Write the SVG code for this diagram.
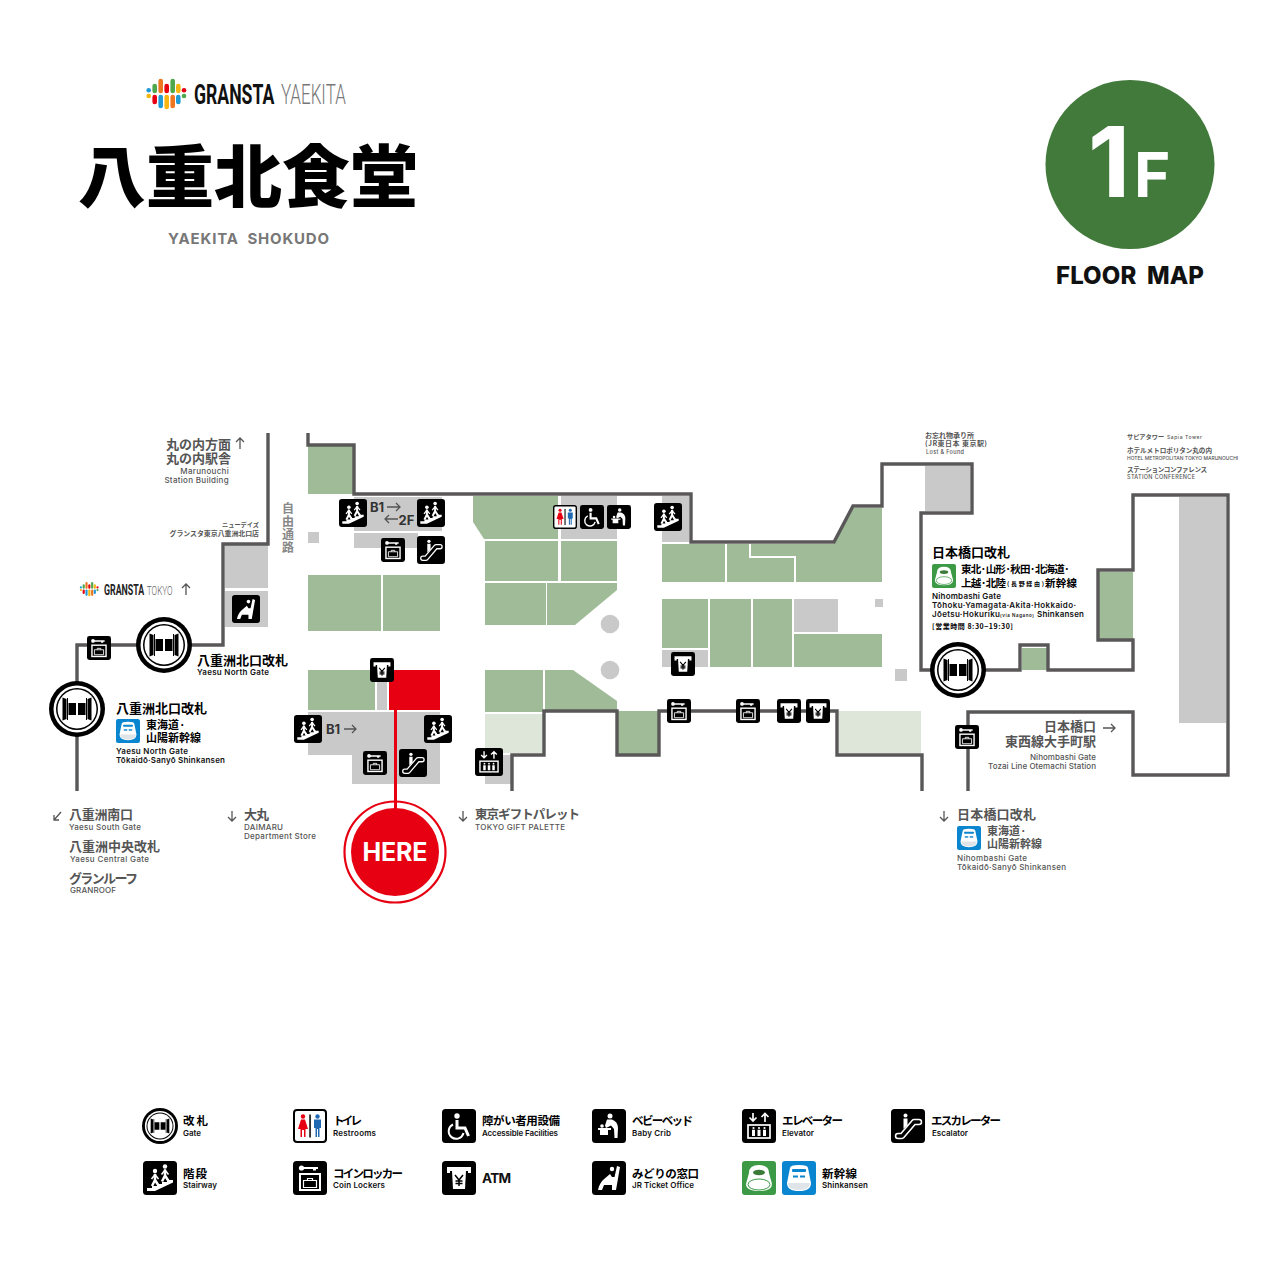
<svg xmlns="http://www.w3.org/2000/svg" width="1276" height="1276" viewBox="0 0 1276 1276">
<style>
text{font-family:"Noto Sans CJK JP",sans-serif}
.j{font-weight:700;fill:#000}
.g{font-weight:700;fill:#555}
.e{font-family:"Inter","Noto Sans CJK JP",sans-serif;font-weight:600;fill:#111}
.eg{font-family:"Inter","Noto Sans CJK JP",sans-serif;font-weight:500;fill:#555}
.wall{fill:none;stroke:#595757;stroke-width:3.4;stroke-linejoin:miter}
.green{fill:#9fbb98}.light{fill:#dde6d8}.gray{fill:#c9c9c9}
.arrow{fill:none;stroke:#555;stroke-width:1.3}
.lg{font-size:11.5px}.le{font-size:8px}
.in{font-family:"Inter",sans-serif}.ro{font-family:"Roboto",sans-serif}
</style>
<defs>
<g id="person"><circle cx="0" cy="0" r="2.200" fill="#fff"/><path d="M0 3V9L-3 15M0 9L3.500 14.500" fill="none" stroke="#fff" stroke-width="2.500"/><path d="M-3.500 8L0 3.500L3.500 8" fill="none" stroke="#fff" stroke-width="1.500"/></g>
<symbol id="i-stair" viewBox="0 0 34 34"><rect width="34" height="34" rx="3.500"/><path d="M4 30V27H9V25H14V23H19V21H24V19H30V21.500L12 30Z" fill="#fff"/><use href="#person" x="12" y="10"/><use href="#person" x="22" y="5.500"/></symbol>
<symbol id="i-locker" viewBox="0 0 34 34"><rect width="34" height="34" rx="3.500"/><circle cx="8.500" cy="7" r="2.600" fill="#fff"/><path d="M9 6H25V8H23V9.500H20V8H9Z" fill="#fff"/><rect x="7" y="13" width="20" height="16" fill="none" stroke="#fff" stroke-width="2"/><path d="M10.500 19.500H23.500V26.500H10.500ZM14.500 19.500V17.500H19.500V19.500" fill="none" stroke="#fff" stroke-width="1.200"/></symbol>
<symbol id="i-esc" viewBox="0 0 34 34"><rect width="34" height="34" rx="3.500"/><path d="M7 27H11L23 13H28" fill="none" stroke="#fff" stroke-width="6.500" stroke-linecap="round" stroke-linejoin="round"/><path d="M7 27H11L23 13H28" fill="none" stroke="#000" stroke-width="3.400" stroke-linecap="round" stroke-linejoin="round"/><circle cx="14.500" cy="6.500" r="2" fill="#fff"/><path d="M12.500 9.500H16.500V16L12.500 20Z" fill="#fff"/></symbol>
<symbol id="i-jr" viewBox="0 0 34 34"><rect width="34" height="34" rx="3.500"/><circle cx="20" cy="8" r="2.200" fill="#fff"/><path d="M25 5L28 6L24 29H20L20 24H12L10 29H6C7 24 9 21 11 19L18 13L20 16H22.500Z" fill="#fff"/></symbol>
<symbol id="i-atm" viewBox="0 0 34 34"><rect width="34" height="34" rx="3.500"/><path d="M5 6H29V12H26V10H8V12H5Z" fill="#fff"/><path d="M10 10H24L23 28H11Z" fill="#fff"/><path d="M13 14L17 19L21 14M17 19V25M13.500 20H20.500M13.500 22.500H20.500" fill="none" stroke="#000" stroke-width="1.500"/></symbol>
<symbol id="i-wc" viewBox="0 0 34 34"><rect x="1" y="1" width="32" height="32" rx="3" fill="#fff" stroke="#000" stroke-width="2"/><circle cx="10" cy="7.500" r="2.200" fill="#e60012"/><path d="M8 10.500H12L15 20H12.500V28H11V21H9V28H7.500V20H5Z" fill="#e60012"/><rect x="16.300" y="5.500" width="1.500" height="23"/><circle cx="24.500" cy="7.500" r="2.200" fill="#1f69b3"/><path d="M21 10.500H28V19H26.500V28H25V20H24V28H22.500V19H21Z" fill="#1f69b3"/></symbol>
<symbol id="i-acc" viewBox="0 0 34 34"><rect width="34" height="34" rx="3.500"/><circle cx="15" cy="7" r="2.700" fill="#fff"/><path d="M15 11V19H23L26.500 27" fill="none" stroke="#fff" stroke-width="3"/><path d="M11 15.500A7.500 7.500 0 1 0 21.500 24" fill="none" stroke="#fff" stroke-width="2"/></symbol>
<symbol id="i-baby" viewBox="0 0 34 34"><rect width="34" height="34" rx="3.500"/><circle cx="18" cy="7" r="2.500" fill="#fff"/><path d="M15 10.500H20C24 12 26 15 26 19L25.500 29H22.500L22 20L19 16.500L14 19L13 16.500Z" fill="#fff"/><path d="M6 19H19V21H16V26H8V21H6Z" fill="#fff"/><circle cx="10" cy="17" r="1.800" fill="#fff"/></symbol>
<symbol id="i-ev" viewBox="0 0 34 34"><rect width="34" height="34" rx="3.500"/><path d="M11 4V12M7.500 8.500L11 12L14.500 8.500M23 13V4.500M19.500 8L23 4.500L26.500 8" fill="none" stroke="#fff" stroke-width="1.700"/><rect x="6" y="16" width="22" height="13" fill="none" stroke="#fff" stroke-width="1.700"/><g fill="#fff"><circle cx="11.500" cy="19" r="1.100"/><circle cx="17" cy="19" r="1.100"/><circle cx="22.500" cy="19" r="1.100"/><path d="M10 20.800H13V27H10ZM15.500 20.800H18.500V27H15.500ZM21 20.800H24V27H21Z"/></g></symbol>
<symbol id="i-sg" viewBox="0 0 34 34"><rect width="34" height="34" rx="3" fill="#3c9a46"/><path d="M7 12Q7 4 17 4Q27 4 27 12L30 23Q30 30 17 30Q4 30 4 23Z" fill="#fff"/><ellipse cx="17" cy="11.500" rx="6" ry="2.800" fill="#3c7a3a"/><ellipse cx="17" cy="23.500" rx="11" ry="5.500" fill="#fff" stroke="#3c9a46" stroke-width="1"/></symbol>
<symbol id="i-sb" viewBox="0 0 34 34"><rect width="34" height="34" rx="3" fill="#0a86d0"/><path d="M8 7Q8 4 17 4Q26 4 26 7L29 22Q29 30 17 30Q5 30 5 22Z" fill="#fff"/><rect x="10" y="8" width="14" height="3" rx="1" fill="#0a86d0"/><rect x="11" y="14.500" width="5" height="2" fill="#0a86d0"/><rect x="18" y="14.500" width="5" height="2" fill="#0a86d0"/><path d="M6 22H28Q28 29 17 29Q6 29 6 22Z" fill="#dfe4e8"/></symbol>
<symbol id="i-gate" viewBox="-28 -28 56 56"><circle r="28"/><circle r="23.500" fill="#fff"/><circle r="21" fill="#000"/><circle r="19.500" fill="#fff"/><path d="M-14.500 -11.500L-10.500 -10V10L-14.500 11.500ZM14.500 -11.500L10.500 -10V10L14.500 11.500Z"/><path d="M-8.500 -6H-1V6H-8.500ZM1 -6H8.500V6H1Z"/><path d="M-9.500 -11V11M9.500 -11V11" stroke="#000" stroke-width="1"/></symbol>
<g id="logo"><g fill="none" stroke-width="4.600" stroke-linecap="round"><path d="M148.700 90.300h.01" stroke="#1e9ad6"/><path d="M148.700 96h.01" stroke="#f6b511"/><path d="M154.700 86V91" stroke="#4fa84b"/><path d="M154.700 97V102" stroke="#e60012"/><path d="M160.700 81V91" stroke="#ee7623"/><path d="M160.700 97V106" stroke="#1e9ad6"/><path d="M166.700 86V91" stroke="#e60012"/><path d="M166.700 97V107" stroke="#f6b511"/><path d="M172.700 81V91" stroke="#4fa84b"/><path d="M172.700 97V106" stroke="#ee7623"/><path d="M178.300 86V91" stroke="#f6b511"/><path d="M178.300 97V102" stroke="#1e9ad6"/><path d="M184 90.300h.01" stroke="#e60012"/><path d="M184 96h.01" stroke="#4fa84b"/></g></g>
</defs>
<rect width="1276" height="1276" fill="#fff"/>

<g id="header">
<use href="#logo"/>
<text class="ro" transform="translate(194 103.500) scale(.63 1)" font-size="28"><tspan x="0" font-weight="700" fill="#111">GRANSTA</tspan><tspan x="138" font-size="27" font-weight="300" fill="#777">YAEKITA</tspan></text>
<text x="78" y="202" font-size="68" font-weight="900" textLength="340" fill="#000">八重北食堂</text>
<text class="in" x="168" y="244" font-size="15" font-weight="700" textLength="161" style="white-space:pre" fill="#777">YAEKITA  SHOKUDO</text>
</g>
<g id="floor-badge">
<circle cx="1130" cy="164.500" r="84.500" fill="#417a3b"/>
<text class="in" x="1088" y="197" font-size="98" font-weight="700" fill="#fff">1<tspan x="1134" font-size="62">F</tspan></text>
<text class="in" x="1056" y="284" font-size="24" font-weight="800" textLength="148" style="white-space:pre" fill="#111">FLOOR  MAP</text>
</g>

<g id="rooms">
<g class="green">
<rect x="308" y="446" width="45" height="48"/>
<rect x="308" y="575" width="73" height="56"/><rect x="383" y="575" width="57" height="56"/>
<rect x="308" y="670" width="67" height="40"/>
<path d="M473 496H558V539H484L473 522Z"/>
<rect x="485" y="541" width="73" height="40"/><rect x="561" y="541" width="56" height="40"/>
<rect x="485" y="583" width="61" height="42"/>
<path d="M547 583H617V590L575 625H547Z"/>
<rect x="485" y="670" width="58" height="42"/>
<path d="M545 670H573L617 701V711H545Z"/>
<rect x="618" y="711" width="40" height="43"/>
<rect x="662" y="544" width="63" height="38"/>
<path d="M727 544H749V558H794V582H727Z"/>
<path d="M751 544H834L853 508H882V582H796V556H751Z"/>
<rect x="662" y="599" width="46" height="49"/>
<rect x="710" y="599" width="41" height="68"/><rect x="753" y="599" width="39" height="68"/>
<rect x="794" y="634" width="88" height="33"/>
<rect x="1099" y="572" width="34" height="68"/>
<rect x="1022" y="648" width="25" height="22"/>
</g>
<g class="light"><rect x="485" y="714" width="58" height="39"/><rect x="839" y="711" width="82" height="42"/></g>
<g class="gray">
<rect x="225" y="545" width="43" height="43"/><rect x="225" y="591" width="43" height="36"/>
<rect x="308" y="532" width="11" height="11"/>
<rect x="354" y="497" width="88" height="34"/><rect x="354" y="533" width="64" height="15"/>
<rect x="377" y="670" width="10" height="40"/>
<path d="M308 712H440V784H352V755H308Z"/>
<rect x="561" y="496" width="56" height="43"/>
<circle cx="610" cy="624" r="9.300"/><circle cx="610" cy="670" r="9.300"/>
<rect x="662" y="496" width="27" height="46"/>
<rect x="662" y="650" width="46" height="17"/>
<rect x="794" y="599" width="44" height="33"/>
<rect x="875" y="599" width="8" height="8"/><rect x="895" y="669" width="12" height="12"/>
<rect x="485" y="755" width="27" height="29"/>
<rect x="925" y="466" width="45" height="45"/>
<rect x="1179" y="497" width="47" height="226"/>
</g>
<rect x="389" y="670" width="51" height="40" fill="#e60012"/>
</g>

<g id="connectors">
<path class="wall" d="M268 433V544H223V645H77V791"/>
<path class="wall" d="M308 433V445H354V494H691V542H834L853 506H882V464H972V513H921V670H1020V645H1048V670H1133V640H1098V570H1133V495H1228V775H1133V712H968V791"/>
<path class="wall" d="M512 791V755H544V711H617V755H659V711H837V755H922V791"/>
<path d="M395.500 710V810" fill="none" stroke="#e60012" stroke-width="3"/>
</g>

<g id="gates">
<use id="gate-yaesu-north" href="#i-gate" x="136" y="617" width="56" height="56"/>
<use id="gate-yaesu-north-2" href="#i-gate" x="49" y="681" width="56" height="56"/>
<use id="gate-nihombashi" href="#i-gate" x="930" y="642" width="56" height="56"/>
</g>
<g id="map-icons">
<use href="#i-stair" x="339" y="499" width="28" height="28"/>
<use href="#i-stair" x="417" y="499" width="28" height="28"/>
<use href="#i-stair" x="294" y="715" width="28" height="28"/>
<use href="#i-stair" x="424" y="715" width="28" height="28"/>
<use href="#i-stair" x="654" y="503" width="28" height="28"/>
<use href="#i-locker" x="381" y="538" width="24" height="24"/>
<use href="#i-locker" x="87" y="636" width="24" height="24"/>
<use href="#i-locker" x="363" y="751" width="24" height="24"/>
<use href="#i-locker" x="667" y="699" width="24" height="24"/>
<use href="#i-locker" x="736" y="699" width="24" height="24"/>
<use href="#i-locker" x="955" y="725" width="24" height="24"/>
<use href="#i-esc" x="417" y="536" width="28" height="28"/>
<use href="#i-esc" x="399" y="749" width="28" height="28"/>
<use href="#i-jr" x="232" y="595" width="28" height="28"/>
<use href="#i-atm" x="370" y="658" width="24" height="24"/>
<use href="#i-atm" x="671" y="652" width="24" height="24"/>
<use href="#i-atm" x="777" y="699" width="24" height="24"/>
<use href="#i-atm" x="806" y="699" width="24" height="24"/>
<use href="#i-wc" x="553" y="505" width="24" height="24"/>
<use href="#i-acc" x="580" y="505" width="24" height="24"/>
<use href="#i-baby" x="607" y="505" width="24" height="24"/>
<use href="#i-ev" x="475" y="748" width="28" height="28"/>
</g>

<g id="here">
<circle cx="395" cy="852" r="50.500" fill="#fff" stroke="#e60012" stroke-width="2.200"/>
<circle cx="395" cy="852" r="44" fill="#e60012"/>
<path d="M395.500 800V809" stroke="#e60012" stroke-width="3"/>
<text class="in" x="395" y="861" font-size="25" font-weight="700" text-anchor="middle" textLength="65" fill="#fff">HERE</text>
</g>

<g id="map-labels">
<text class="g" font-size="13"><tspan x="166" y="448.500">丸の内方面</tspan><tspan x="166" y="463">丸の内駅舎</tspan></text>
<path class="arrow" d="M240 449V438M236 442L240 438L244 442"/>
<text class="eg" font-size="8" text-anchor="end" letter-spacing=".3"><tspan x="229" y="474">Marunouchi</tspan><tspan x="229" y="482.500">Station Building</tspan></text>
<text class="g" font-size="6.900" text-anchor="end"><tspan x="259" y="527" font-size="6.200">ニューデイズ</tspan><tspan x="259" y="535.500">グランスタ東京八重洲北口店</tspan></text>
<text class="g" x="288" y="502" font-size="12" style="writing-mode:vertical-rl;letter-spacing:1.200px;fill:#888">自由通路</text>

<use href="#logo" transform="translate(11 545) scale(.47)"/>
<text class="ro" transform="translate(104 594.500) scale(.63 1)" font-size="14"><tspan x="0" font-weight="700" fill="#222">GRANSTA</tspan><tspan x="68" font-size="13" font-weight="300" fill="#666">TOKYO</tspan></text>
<path class="arrow" d="M186 595V584M182 588L186 584L190 588"/>

<text class="j" x="197" y="665" font-size="13" textLength="91" fill="#222">八重洲北口改札</text>
<text class="e" x="197" y="675" font-size="8" textLength="72">Yaesu North Gate</text>
<text class="j" x="116" y="713" font-size="13" textLength="91">八重洲北口改札</text>
<use href="#i-sb" x="116" y="719" width="24" height="24"/>
<text class="j" font-size="11"><tspan x="146" y="729">東海道·</tspan><tspan x="146" y="742">山陽新幹線</tspan></text>
<text class="e" x="116" y="754" font-size="8" textLength="72">Yaesu North Gate</text>
<text class="e" x="116" y="763" font-size="8" textLength="109">Tōkaidō·Sanyō Shinkansen</text>

<text class="in" x="370" y="512" font-size="13" font-weight="700" fill="#333">B1</text>
<path class="arrow" d="M387 507H400M396 503L400 507L396 511"/>
<path class="arrow" d="M398 519H385M389 515L385 519L389 523"/>
<text class="in" x="398.500" y="525" font-size="13" font-weight="700" fill="#333">2F</text>
<text class="in" x="326" y="734" font-size="13" font-weight="700" fill="#333">B1</text>
<path class="arrow" d="M344 729H356M352 725L356 729L352 733"/>

<path class="arrow" d="M61 812L54 820M54 815V820H59"/>
<text class="g" x="69" y="819" font-size="13" textLength="64">八重洲南口</text>
<text class="eg" x="69" y="830" font-size="8" textLength="72">Yaesu South Gate</text>
<text class="g" x="69" y="851" font-size="13" textLength="91">八重洲中央改札</text>
<text class="eg" x="70" y="862" font-size="8" textLength="79">Yaesu Central Gate</text>
<text class="g" x="69" y="883" font-size="13" textLength="69">グランルーフ</text>
<text class="eg" x="70" y="893" font-size="8" textLength="46">GRANROOF</text>

<path class="arrow" d="M232 811V821M228 817L232 821L236 817"/>
<text class="g" x="244" y="819" font-size="13" textLength="25">大丸</text>
<text class="eg" x="244" y="830" font-size="8" textLength="39">DAIMARU</text>
<text class="eg" x="244" y="839" font-size="8" textLength="72">Department Store</text>

<path class="arrow" d="M463 811V821M459 817L463 821L467 817"/>
<text class="g" x="475" y="819" font-size="12.500" textLength="105">東京ギフトパレット</text>
<text class="eg" x="475" y="830" font-size="8" textLength="90">TOKYO GIFT PALETTE</text>

<path class="arrow" d="M944 811V821M940 817L944 821L948 817"/>
<text class="g" x="957" y="819" font-size="13" textLength="79">日本橋口改札</text>
<use href="#i-sb" x="957" y="826" width="24" height="24"/>
<text class="g" font-size="11"><tspan x="987" y="835">東海道·</tspan><tspan x="987" y="848">山陽新幹線</tspan></text>
<text class="eg" x="957" y="861" font-size="8" textLength="70">Nihombashi Gate</text>
<text class="eg" x="957" y="870" font-size="8" textLength="109">Tōkaidō·Sanyō Shinkansen</text>

<text class="g" x="925" y="438" font-size="7">お忘れ物承り所</text>
<text class="g" x="925" y="446" font-size="7" textLength="62">(JR東日本 東京駅)</text>
<text class="eg" x="926" y="454" font-size="5.500" textLength="38">Lost &amp; Found</text>

<text class="g" x="1127" y="439" font-size="6.200">サピアタワー</text>
<text class="eg" x="1167" y="439" font-size="5" textLength="35">Sapia Tower</text>
<text class="g" x="1127" y="453" font-size="6.600" textLength="85">ホテルメトロポリタン丸の内</text>
<text class="eg" transform="translate(1127 460) scale(.8 1)" x="0" y="0" font-size="5" textLength="139" lengthAdjust="spacingAndGlyphs">HOTEL METROPOLITAN TOKYO MARUNOUCHI</text>
<text class="g" x="1127" y="472" font-size="6.600" textLength="80">ステーションコンファレンス</text>
<text class="eg" x="1127" y="479" font-size="5.500" textLength="68">STATION CONFERENCE</text>

<text class="j" x="932" y="557" font-size="13" textLength="78">日本橋口改札</text>
<use href="#i-sg" x="932" y="564" width="24" height="24"/>
<text class="j" x="961" y="573" font-size="10.500" textLength="109">東北·山形·秋田·北海道·</text>
<text class="j" x="961" y="587" font-size="10.500" textLength="45">上越·北陸</text>
<text class="j" x="1007" y="586" font-size="6" textLength="37">(長野経由)</text>
<text class="j" x="1045" y="587" font-size="10.500" textLength="32">新幹線</text>
<text class="e" x="932" y="599" font-size="8" textLength="69">Nihombashi Gate</text>
<text class="e" x="932" y="608" font-size="8" textLength="144">Tōhoku·Yamagata·Akita·Hokkaido·</text>
<text class="e" x="932" y="617" font-size="8" textLength="68">Jōetsu·Hokuriku</text>
<text class="e" x="1000" y="617" font-size="4.500" textLength="34">(via Nagano)</text>
<text class="e" x="1037" y="617" font-size="8" textLength="47">Shinkansen</text>
<text class="j" x="932" y="629" font-size="7" textLength="81">[営業時間 8:30−19:30]</text>

<text class="g" font-size="13"><tspan x="1044" y="731">日本橋口</tspan><tspan x="1005" y="746">東西線大手町駅</tspan></text>
<path class="arrow" d="M1103 728H1115M1111 724L1115 728L1111 732"/>
<text class="eg" x="1096" y="760" font-size="8" text-anchor="end" textLength="66">Nihombashi Gate</text>
<text class="eg" x="1096" y="769" font-size="8" text-anchor="end" textLength="108">Tozai Line Otemachi Station</text>
</g>

<g id="legend">
<g id="lg-gate"><use href="#i-gate" x="142" y="1108" width="36" height="36"/><text class="j lg" x="183" y="1125.300" textLength="25">改札</text><text class="e le" x="183" y="1136.300" textLength="18">Gate</text></g>
<g id="lg-wc"><use href="#i-wc" x="293" y="1109" width="34" height="34"/><text class="j lg" x="333" y="1125.300" textLength="29">トイレ</text><text class="e le" x="333" y="1136.300" textLength="43">Restrooms</text></g>
<g id="lg-acc"><use href="#i-acc" x="442" y="1109" width="34" height="34"/><text class="j lg" x="482" y="1125.300" textLength="78">障がい者用設備</text><text class="e le" x="482" y="1136.300" textLength="76">Accessible Facilities</text></g>
<g id="lg-baby"><use href="#i-baby" x="592" y="1109" width="34" height="34"/><text class="j lg" x="632" y="1125.300" textLength="61">ベビーベッド</text><text class="e le" x="632" y="1136.300" textLength="39">Baby Crib</text></g>
<g id="lg-ev"><use href="#i-ev" x="742" y="1109" width="34" height="34"/><text class="j lg" x="782" y="1125.300" textLength="61">エレベーター</text><text class="e le" x="782" y="1136.300" textLength="32">Elevator</text></g>
<g id="lg-esc"><use href="#i-esc" x="891" y="1109" width="34" height="34"/><text class="j lg" x="931" y="1125.300" textLength="70">エスカレーター</text><text class="e le" x="932" y="1136.300" textLength="36">Escalator</text></g>
<g id="lg-stair"><use href="#i-stair" x="143" y="1161" width="34" height="34"/><text class="j lg" x="183" y="1177.500" textLength="24">階段</text><text class="e le" x="183" y="1188.300" textLength="34">Stairway</text></g>
<g id="lg-locker"><use href="#i-locker" x="293" y="1161" width="34" height="34"/><text class="j lg" x="333" y="1177.500" textLength="70">コインロッカー</text><text class="e le" x="333" y="1188.300" textLength="52">Coin Lockers</text></g>
<g id="lg-atm"><use href="#i-atm" x="442" y="1161" width="34" height="34"/><text class="in" x="482" y="1183" font-size="13.500" font-weight="700" textLength="29" fill="#111">ATM</text></g>
<g id="lg-jr"><use href="#i-jr" x="592" y="1161" width="34" height="34"/><text class="j lg" x="632" y="1177.500" textLength="67">みどりの窓口</text><text class="e le" x="632" y="1188.300" textLength="62">JR Ticket Office</text></g>
<g id="lg-shinkansen"><use href="#i-sg" x="742" y="1161" width="34" height="34"/><use href="#i-sb" x="782" y="1161" width="34" height="34"/><text class="j lg" x="822" y="1177.500" textLength="35">新幹線</text><text class="e le" x="822" y="1188.300" textLength="46">Shinkansen</text></g>
</g>
</svg>
